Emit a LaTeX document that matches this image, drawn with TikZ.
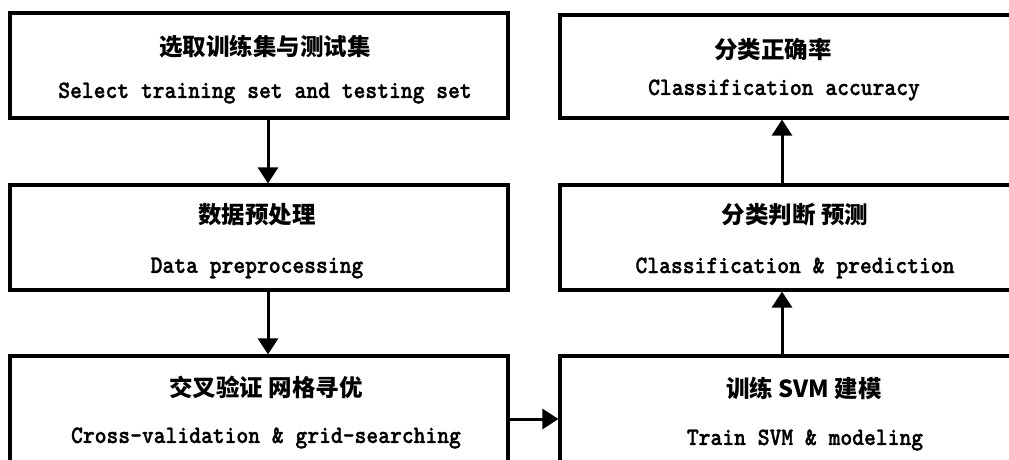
\documentclass[tikz,border=0pt]{standalone}
\usepackage{fontspec}
\newfontfamily\cjk{Noto Sans CJK SC}
\newfontfamily\eng{lmmonolt10-bold.otf}[FakeBold=1.2, FakeStretch=0.9]
\usetikzlibrary{arrows.meta}
\tikzset{
  box/.style={draw=black, line width=3.2pt, rectangle, inner sep=0pt},
  lbox/.style={box, minimum width=498pt},
  rbox/.style={box, minimum width=470pt},
  zh/.style={inner sep=0pt, anchor=center, font=\cjk\bfseries\fontsize{23.5}{27}\selectfont},
  en/.style={inner sep=0pt, anchor=center, font=\eng\fontsize{25}{29}\selectfont},
  arr/.style={line width=3pt, -{Triangle[length=16pt,width=20pt]}},
}
\begin{document}
\begin{tikzpicture}[x=1pt,y=-1pt]
\useasboundingbox (0,0) rectangle (1009,460);
\clip (0,0) rectangle (1009,460);
\fill[white] (0,0) rectangle (1009,460);
% left column
\node[lbox, minimum height=105pt] (b1) at (259,65.5) {};
\node[lbox, minimum height=105pt] (b2) at (259,237.5) {};
\node[lbox, minimum height=130pt] (b3) at (259,421) {};
% right column
\node[rbox, minimum height=103pt] (r1) at (795,66.5) {};
\node[rbox, minimum height=105pt] (r2) at (795,237.5) {};
\node[rbox, minimum height=130pt] (r3) at (795,421) {};
% texts
\node[zh] (t1a) at (265,47) {选取训练集与测试集};
\node[en] (t1b) at (265,93) {Select training set and testing set};
\node[zh] (t2a) at (257,215) {数据预处理};
\node[en] (t2b) at (257,268) {Data preprocessing};
\node[zh] (t3a) at (266,387) {交叉验证 网格寻优};
\node[en] (t3b) at (266,438) {Cross-validation \& grid-searching};
\node[zh] (u1a) at (773,50) {分类正确率};
\node[en] (u1b) at (784,90) {Classification accuracy};
\node[zh] (u2a) at (795,215) {分类判断 预测};
\node[en] (u2b) at (795,268) {Classification \& prediction};
\node[zh] (u3a) at (804,388) {训练 SVM 建模};
\node[en] (u3b) at (805,440) {Train SVM \& modeling};
% connectors
\coordinate (la) at (268,0);
\coordinate (ra) at (782,0);
\coordinate (ha) at (0,419);
\draw[arr] (b1.south -| la) -- (b2.north -| la);
\draw[arr] (b2.south -| la) -- (b3.north -| la);
\draw[arr] (b3.east |- ha) -- (r3.west |- ha);
\draw[arr] (r3.north -| ra) -- (r2.south -| ra);
\draw[arr] (r2.north -| ra) -- (r1.south -| ra);
\end{tikzpicture}
\end{document}
